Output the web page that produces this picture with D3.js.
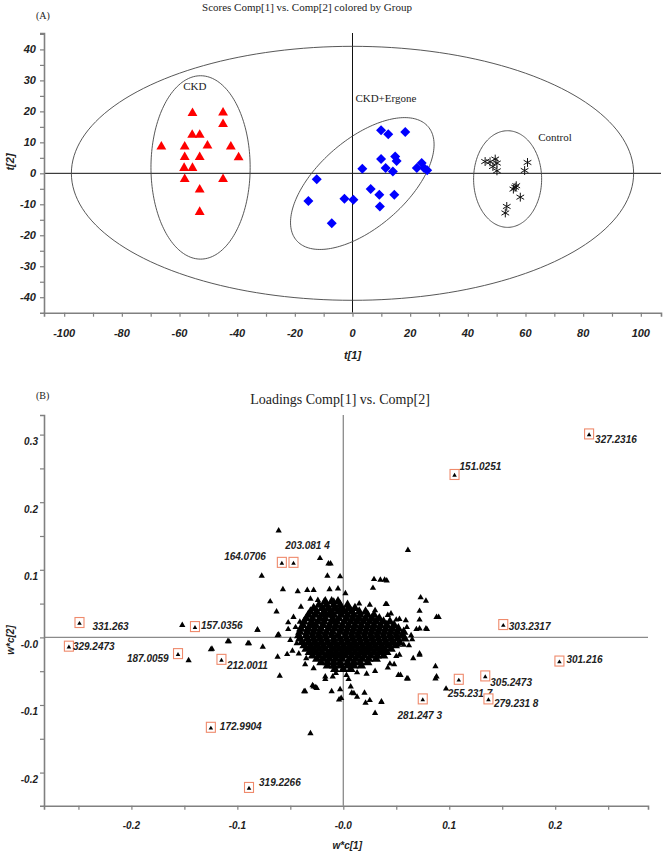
<!DOCTYPE html>
<html><head><meta charset="utf-8">
<script src="https://cdn.jsdelivr.net/npm/d3@7"></script>
<style>body{margin:0;background:#fff}svg{display:block}</style>
</head><body>
<svg id="chart" width="664" height="858"></svg>
<script>
// ---------------- DATA ----------------
// (A) PCA scores t[1], t[2]
const ckdScores = [[-55.5,19.4],[-44.9,19.6],[-44.9,15.9],[-55.6,12.4],[-53.0,12.4],[-66.3,8.6],[-58.2,8.6],[-50.3,8.9],[-42.2,8.6],[-58.2,5.2],[-53.0,5.2],[-39.5,5.1],[-58.4,1.7],[-55.5,1.7],[-58.2,-1.9],[-44.9,-1.9],[-53.0,-5.3],[-53.0,-12.5]];
const ergoneScores = [[9.9,13.9],[12.4,12.6],[18.3,13.3],[9.9,4.6],[14.8,5.4],[15.3,4.0],[3.4,1.5],[11.5,1.7],[14.0,0.6],[22.3,1.7],[24.0,3.3],[24.8,1.7],[25.9,1.0],[-12.4,-1.9],[6.3,-5.1],[9.3,-6.9],[14.5,-6.9],[-15.3,-8.9],[-2.8,-8.2],[0.3,-8.5],[9.5,-10.7],[-7.2,-16.1]];
const controlScores = [[46.0,3.8],[49.5,4.6],[50.1,3.3],[48.7,2.2],[50.1,0.8],[47.7,3.7],[60.7,3.5],[59.7,0.9],[56.4,-4.5],[55.8,-5.1],[56.8,-4.0],[58.2,-7.7],[53.5,-10.7],[53.0,-12.8]];
// ellipses: centre and two semi-axis vectors, in score units
const ellipseCenters = [[0,0],[-52.7,1.9],[3.4,-3.3],[53.8,-1.85]];
const ellipseAxisU = [[97.5,0],[17.2,0],[22.8,18.4],[11.8,0]];
const ellipseAxisV = [[0,41],[0,29.6],[10.0,-10.7],[0,15.6]];
const groupNames = ["CKD","CKD+Ergone","Control"];
const scoreXTicks = [-100,-80,-60,-40,-20,0,20,40,60,80,100];
const scoreYTicks = [40,30,20,10,0,-10,-20,-30,-40];

// (B) loadings w*c[1], w*c[2]
const labeledNames = ["327.2316","151.0251","164.0706","203.081 4","331.263","157.0356","303.2317","329.2473","187.0059","212.0011","301.216","305.2473","255.231 7","279.231 8","281.247 3","172.9904","319.2266"];
const labeledX = [0.232,0.105,-0.058,-0.047,-0.249,-0.140,0.151,-0.259,-0.156,-0.115,0.204,0.134,0.109,0.137,0.075,-0.125,-0.089];
const labeledY = [0.301,0.241,0.111,0.111,0.022,0.016,0.019,-0.013,-0.024,-0.0325,-0.035,-0.057,-0.062,-0.091,-0.091,-0.133,-0.222];
const loadingOutliers = [[-0.061,0.158],[-0.022,0.117],[-0.014,0.109],[-0.012,0.109],[-0.015,0.091],[-0.003,0.090],[-0.077,0.091],[-0.057,0.071],[-0.043,0.068],[-0.034,0.070],[-0.028,0.070],[-0.013,0.071],[-0.005,0.072],[0.002,0.065],[-0.069,0.053],[-0.063,0.038],[-0.031,0.057],[-0.024,0.055],[-0.018,0.054],[-0.009,0.054],[-0.052,0.012],[-0.041,0.023],[-0.044,-0.009],[-0.035,0.011],[-0.061,0.004],[-0.081,0.011],[-0.089,-0.009],[-0.076,-0.014],[-0.062,-0.029],[-0.109,-0.006],[-0.124,-0.017],[-0.060,-0.057],[-0.053,-0.025],[-0.042,-0.024],[-0.035,-0.031],[-0.028,-0.046],[-0.017,-0.058],[-0.007,-0.053],[-0.037,-0.080],[-0.028,-0.073],[-0.025,-0.075],[-0.011,-0.080],[-0.003,-0.077],[0.008,-0.082],[0.013,-0.088],[0.020,-0.082],[0.021,-0.097],[0.036,-0.096],[-0.002,-0.090],[0.029,0.086],[0.035,0.085],[0.041,0.084],[0.028,0.073],[0.041,0.049],[0.061,0.129],[0.073,0.059],[0.078,0.054],[0.053,0.027],[0.059,0.025],[0.072,0.026],[0.069,0.012],[0.079,0.012],[0.088,0.030],[0.064,0.003],[0.054,0.001],[0.066,-0.031],[0.072,-0.024],[0.060,-0.061],[0.054,-0.056],[0.087,-0.043],[0.087,-0.061],[-0.152,0.018],[-0.125,-0.018],[-0.108,-0.006],[-0.090,-0.009],[-0.081,0.011],[-0.062,0.003],[-0.146,-0.034],[0.072,0.039],[0.090,0.030],[0.072,0.013],[0.078,0.013],[0.050,0.026],[0.052,-0.011],[0.072,-0.026],[0.088,-0.058],[-0.036,-0.080],[-0.029,-0.071],[-0.026,-0.074],[-0.017,-0.062],[-0.004,-0.092],[0.003,-0.056],[0.007,-0.073],[0.010,-0.083],[0.013,-0.052],[0.022,-0.054],[0.025,-0.093],[0.030,-0.112],[0.052,-0.056],[0.061,-0.061],[0.097,-0.076],[-0.031,-0.142],[0.039,0.085],[0.040,0.049],[0.042,0.033],[0.057,-0.011],[0.053,-0.026],[0.044,-0.039],[0.036,-0.095],[-0.047,0.030],[-0.050,-0.004],[-0.048,-0.020],[-0.040,0.045],[-0.036,-0.040],[0.045,0.035],[0.050,-0.028],[0.060,0.015],[0.062,-0.012],[0.042,-0.045],[0.030,-0.050],[-0.010,-0.058],[0.005,-0.062],[0.025,0.048],[0.015,0.050],[0.030,0.040],[-0.045,0.015],[0.065,-0.003],[-0.052,0.022],[0.048,-0.040]];
// dense core of the loading cloud: rows of [w*c[2], list of w*c[1]]
const loadingCore = [
 [0.053,[-0.017,-0.011,-0.005]],
 [0.048,[-0.023,-0.016,-0.009,-0.003,0.004]],
 [0.043,[-0.028,-0.020,-0.014,-0.008,-0.002,0.005,0.011]],
 [0.038,[-0.031,-0.025,-0.018,-0.012,-0.005,0.001,0.008,0.015,0.021]],
 [0.033,[-0.033,-0.026,-0.020,-0.014,-0.009,-0.002,0.004,0.010,0.016,0.023,0.029]],
 [0.028,[-0.035,-0.029,-0.022,-0.017,-0.010,-0.004,0.003,0.009,0.015,0.021,0.027,0.034]],
 [0.023,[-0.037,-0.030,-0.024,-0.018,-0.011,-0.006,0.001,0.007,0.013,0.019,0.025,0.031,0.038,0.044]],
 [0.018,[-0.038,-0.031,-0.026,-0.019,-0.013,-0.007,-0.001,0.005,0.011,0.017,0.023,0.029,0.035,0.041,0.048]],
 [0.013,[-0.040,-0.033,-0.027,-0.021,-0.014,-0.008,-0.002,0.004,0.010,0.016,0.022,0.028,0.034,0.040,0.046,0.052]],
 [0.008,[-0.041,-0.034,-0.028,-0.022,-0.016,-0.010,-0.003,0.003,0.009,0.015,0.021,0.027,0.033,0.039,0.045,0.051,0.057]],
 [0.003,[-0.042,-0.035,-0.029,-0.023,-0.017,-0.011,-0.005,0.002,0.008,0.014,0.020,0.026,0.032,0.038,0.044,0.050,0.056]],
 [-0.002,[-0.041,-0.034,-0.028,-0.022,-0.016,-0.009,-0.003,0.003,0.009,0.015,0.021,0.027,0.033,0.039,0.045,0.051,0.058]],
 [-0.007,[-0.039,-0.033,-0.027,-0.021,-0.015,-0.009,-0.002,0.004,0.010,0.016,0.022,0.028,0.034,0.040,0.046,0.053]],
 [-0.012,[-0.037,-0.031,-0.025,-0.019,-0.013,-0.006,0.000,0.006,0.012,0.018,0.024,0.030,0.036,0.042,0.049]],
 [-0.017,[-0.035,-0.029,-0.023,-0.017,-0.010,-0.004,0.002,0.008,0.014,0.020,0.026,0.032,0.038,0.045]],
 [-0.022,[-0.032,-0.026,-0.020,-0.013,-0.007,-0.001,0.005,0.011,0.017,0.023,0.029,0.035,0.041]],
 [-0.027,[-0.029,-0.023,-0.016,-0.010,-0.004,0.002,0.008,0.014,0.020,0.026,0.032,0.038]],
 [-0.032,[-0.025,-0.019,-0.013,-0.007,-0.001,0.006,0.012,0.018,0.024,0.031]],
 [-0.037,[-0.021,-0.015,-0.009,-0.003,0.004,0.010,0.016,0.023]],
 [-0.042,[-0.015,-0.009,-0.003,0.004,0.010,0.017]],
 [-0.047,[-0.008,0.000,0.007]]
];
const loadXTicks = [-0.2,-0.1,0,0.1,0.2];
const loadXTickLabels = ["-0.2","-0.1","-0.0","0.1","0.2"];
const loadYTicks = [0.3,0.2,0.1,0,-0.1,-0.2];
const loadYTickLabels = ["0.3","0.2","0.1","-0.0","-0.1","-0.2"];

// ---------------- DRAWING ----------------
const svg = d3.select("#chart");
const serif = "'Liberation Serif','Times New Roman',serif";
const sans = "'Liberation Sans',Arial,sans-serif";
const axisGray = "#808080";

function axisLabelStyle(sel, size) {
  sel.attr("font-family", sans).attr("font-weight", "bold").attr("font-style", "italic")
     .attr("font-size", size).attr("fill", "#222");
}

// ===== Panel A =====
const xA = d3.scaleLinear().domain([-107, 107]).range([44, 661]);
const yA = d3.scaleLinear().domain([-45, 45.3]).range([312.7, 33]);
const gA = svg.append("g");

svg.append("text").attr("x", 307).attr("y", 11).attr("text-anchor", "middle")
  .attr("font-family", serif).attr("font-size", 11).attr("fill", "#222")
  .text("Scores Comp[1] vs. Comp[2] colored by Group");
svg.append("text").attr("x", 36).attr("y", 18.5)
  .attr("font-family", serif).attr("font-size", 10).attr("fill", "#222").text("(A)");

// zero lines
gA.append("line").attr("x1", xA(-107)).attr("x2", xA(107)).attr("y1", yA(0)).attr("y2", yA(0))
  .attr("stroke", "#111").attr("stroke-width", 1);
gA.append("line").attr("x1", xA(0)).attr("x2", xA(0)).attr("y1", yA(45.3)).attr("y2", yA(-45))
  .attr("stroke", "#111").attr("stroke-width", 1);

// ellipses
const ellLine = d3.line().curve(d3.curveLinearClosed);
ellipseCenters.forEach((c, i) => {
  const u = ellipseAxisU[i], v = ellipseAxisV[i];
  const pts = d3.range(0, 360, 2).map(a => {
    const t = a * Math.PI / 180;
    return [xA(c[0] + u[0] * Math.cos(t) + v[0] * Math.sin(t)),
            yA(c[1] + u[1] * Math.cos(t) + v[1] * Math.sin(t))];
  });
  gA.append("path").attr("d", ellLine(pts)).attr("fill", "none")
    .attr("stroke", "#444").attr("stroke-width", 0.9);
});

// axes
const axAx = d3.axisBottom(xA).tickValues(d3.range(-100, 101, 10)).tickSize(4).tickFormat("");
const gAx = gA.append("g").attr("transform", `translate(0,${yA(-45)})`).call(axAx);
gAx.select(".domain").attr("stroke", axisGray).attr("stroke-width", 1.6);
gAx.selectAll(".tick line").attr("stroke", axisGray).attr("stroke-width", 1.2);
const ayAx = d3.axisLeft(yA).tickValues(d3.range(-40, 46, 5)).tickSize(4).tickFormat("");
const gAy = gA.append("g").attr("transform", `translate(${xA(-107)},0)`).call(ayAx);
gAy.select(".domain").attr("stroke", axisGray).attr("stroke-width", 1.6);
gAy.selectAll(".tick line").attr("stroke", axisGray).attr("stroke-width", 1.2);

gA.selectAll("text.xl").data(scoreXTicks).join("text").attr("class", "xl")
  .attr("x", d => xA(d)).attr("y", 337).attr("text-anchor", "middle")
  .call(axisLabelStyle, 11).text(d => d);
gA.selectAll("text.yl").data(scoreYTicks).join("text").attr("class", "yl")
  .attr("x", 36).attr("y", d => yA(d) + 4).attr("text-anchor", "end")
  .call(axisLabelStyle, 11).text(d => d);
gA.append("text").attr("x", xA(0)).attr("y", 359).attr("text-anchor", "middle")
  .call(axisLabelStyle, 11).text("t[1]");
gA.append("text").attr("transform", `translate(14,${162}) rotate(-90)`).attr("text-anchor", "middle")
  .call(axisLabelStyle, 11).text("t[2]");

// group labels
const groupLabelPos = [[-54.7, 28.2, "middle"], [1.0, 24.3, "start"], [64.4, 11.7, "start"]];
groupNames.forEach((n, i) => {
  const p = groupLabelPos[i];
  gA.append("text").attr("x", xA(p[0])).attr("y", yA(p[1]) + 4).attr("text-anchor", p[2])
    .attr("font-family", serif).attr("font-size", 11).attr("fill", "#222").text(n);
});

// points
gA.selectAll("path.ckd").data(ckdScores).join("path").attr("class", "ckd")
  .attr("d", d3.symbol(d3.symbolTriangle, 42))
  .attr("transform", d => `translate(${xA(d[0])},${yA(d[1])})`).attr("fill", "#ff0000");
gA.selectAll("path.erg").data(ergoneScores).join("path").attr("class", "erg")
  .attr("d", d3.symbol(d3.symbolSquare, 50))
  .attr("transform", d => `translate(${xA(d[0])},${yA(d[1])}) rotate(45)`).attr("fill", "#0000ff");
gA.selectAll("path.ctl").data(controlScores).join("path").attr("class", "ctl")
  .attr("d", d3.symbol(d3.symbolAsterisk, 55))
  .attr("transform", d => `translate(${xA(d[0])},${yA(d[1])})`)
  .attr("fill", "none").attr("stroke", "#111").attr("stroke-width", 1);

// ===== Panel B =====
const xB = d3.scaleLinear().domain([-0.2825, 0.2876]).range([44, 648]);
const yB = d3.scaleLinear().domain([-0.249, 0.329]).range([805.7, 415]);
const gB = svg.append("g");

svg.append("text").attr("x", 36).attr("y", 398.5)
  .attr("font-family", serif).attr("font-size", 10).attr("fill", "#222").text("(B)");
svg.append("text").attr("x", 340).attr("y", 404).attr("text-anchor", "middle")
  .attr("font-family", serif).attr("font-size", 14).attr("fill", "#222")
  .text("Loadings Comp[1] vs. Comp[2]");

gB.append("line").attr("x1", xB(-0.2825)).attr("x2", xB(0.2876)).attr("y1", yB(0)).attr("y2", yB(0))
  .attr("stroke", "#8a8a8a").attr("stroke-width", 1.3);
gB.append("line").attr("x1", xB(0)).attr("x2", xB(0)).attr("y1", yB(0.329)).attr("y2", yB(-0.249))
  .attr("stroke", "#8a8a8a").attr("stroke-width", 1.3);

const bxAx = d3.axisBottom(xB).tickValues(d3.range(-0.25, 0.251, 0.05)).tickSize(4).tickFormat("");
const gBx = gB.append("g").attr("transform", `translate(0,${yB(-0.249)})`).call(bxAx);
gBx.select(".domain").attr("stroke", axisGray).attr("stroke-width", 1.6);
gBx.selectAll(".tick line").attr("stroke", axisGray).attr("stroke-width", 1.2);
const byAx = d3.axisLeft(yB).tickValues(d3.range(-0.2, 0.301, 0.05)).tickSize(4).tickFormat("");
const gBy = gB.append("g").attr("transform", `translate(${xB(-0.2825)},0)`).call(byAx);
gBy.select(".domain").attr("stroke", axisGray).attr("stroke-width", 1.6);
gBy.selectAll(".tick line").attr("stroke", axisGray).attr("stroke-width", 1.2);

gB.selectAll("text.xl").data(loadXTicks).join("text").attr("class", "xl")
  .attr("x", d => xB(d)).attr("y", 829).attr("text-anchor", "middle")
  .call(axisLabelStyle, 10).text((d, i) => loadXTickLabels[i]);
gB.selectAll("text.yl").data(loadYTicks).join("text").attr("class", "yl")
  .attr("x", 38).attr("y", d => yB(d) + 10.5).attr("text-anchor", "end")
  .call(axisLabelStyle, 10).text((d, i) => loadYTickLabels[i]);
gB.append("text").attr("x", xB(0) + 4).attr("y", 849).attr("text-anchor", "middle")
  .call(axisLabelStyle, 10).text("w*c[1]");
gB.append("text").attr("transform", `translate(14,${640}) rotate(-90)`).attr("text-anchor", "middle")
  .call(axisLabelStyle, 10).text("w*c[2]");

// cloud
const corePts = loadingCore.flatMap(r => r[1].map(x => [x, r[0]]));
gB.selectAll("path.core").data(corePts).join("path").attr("class", "core")
  .attr("d", d3.symbol(d3.symbolTriangle, 40))
  .attr("transform", d => `translate(${xB(d[0])},${yB(d[1])})`).attr("fill", "#000");
gB.selectAll("path.out").data(loadingOutliers).join("path").attr("class", "out")
  .attr("d", d3.symbol(d3.symbolTriangle, 17))
  .attr("transform", d => `translate(${xB(d[0])},${yB(d[1])})`).attr("fill", "#000");

// labelled loadings
const labelPlacement = [[6,9.5,"start"],[5,-4.5,"start"],[-16,-2.8,"end"],[14,-13.8,"middle"],[13,7.2,"start"],[6,2.8,"start"],[5.5,5.2,"start"],[4,4.2,"start"],[-9.4,7.9,"end"],[5.5,9.9,"start"],[7,1.5,"start"],[5,9.8,"start"],[-11,18.2,"start"],[5.5,7.8,"start"],[-3,20,"middle"],[9,3,"start"],[10,-1,"start"]];
const labeled = labeledNames.map((n, i) => ({ name: n, x: labeledX[i], y: labeledY[i], p: labelPlacement[i] }));
const lg = gB.selectAll("g.lab").data(labeled).join("g").attr("class", "lab")
  .attr("transform", d => `translate(${xB(d.x)},${yB(d.y)})`);
lg.append("rect").attr("x", -4.5).attr("y", -5).attr("width", 9).attr("height", 10)
  .attr("fill", "#fff").attr("stroke", "#ef8a6c").attr("stroke-width", 1.1);
lg.append("path").attr("d", d3.symbol(d3.symbolTriangle, 9)).attr("transform", "translate(0,1)").attr("fill", "#000");
lg.append("text").attr("x", d => d.p[0]).attr("y", d => d.p[1]).attr("text-anchor", d => d.p[2])
  .call(axisLabelStyle, 10).text(d => d.name);
</script>
</body></html>
